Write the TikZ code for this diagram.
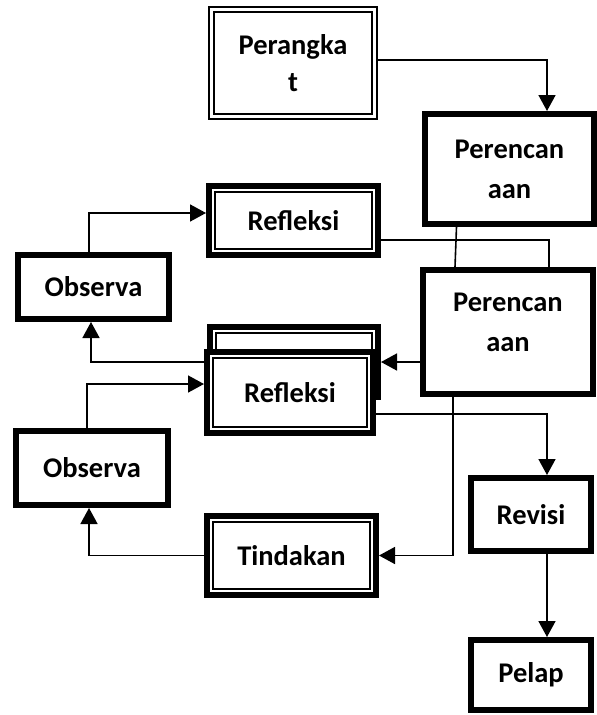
\documentclass[tikz,border=0pt]{standalone}
\usepackage{fontspec}
\setmainfont{Carlito}
\usetikzlibrary{arrows.meta}

\begin{document}
\begin{tikzpicture}[x=1pt,y=-1pt]
	\tikzstyle{kotak}=[draw,line width=6pt,fill=white,inner sep=0pt,align=center,font=\bfseries\fontsize{28.5}{40}\selectfont]
	\tikzstyle{ganda}=[kotak,line width=1.7pt,double,double distance=3.3pt,outer sep=3.35pt,font=\bfseries\fontsize{28.5}{37}\selectfont]
	\tikzstyle{bingkai}=[kotak,path picture={\draw[line width=1.6pt] ([shift={(6pt,-6pt)}]path picture bounding box.north west) rectangle ([shift={(-6pt,6pt)}]path picture bounding box.south east);}]
	\tikzstyle{garis}=[line width=1.6pt]
	\tikzstyle{panah}=[garis,-{Triangle[length=16pt,width=17pt]}]
	\useasboundingbox (0,0) rectangle (597,715);
	\node[ganda,minimum width=163pt,minimum height=107pt] (Pk) at (293,63) {Perangka\\t};
	\node[kotak,minimum width=169pt,minimum height=110pt] (P1) at (509.5,169) {Perencan\\aan};
	\node[bingkai,minimum width=169pt,minimum height=69pt] (R1) at (293.5,220.5) {Refleksi};
	\node[kotak,minimum width=151pt,minimum height=64pt] (O1) at (93.5,287) {Observa};
	\node[kotak,minimum width=170pt,minimum height=124pt,text depth=20pt] (P2) at (508,332) {Perencan\\aan};
	\node[bingkai,minimum width=168pt,minimum height=70pt] (B) at (294,362) {};
	\node[bingkai,minimum width=166pt,minimum height=81pt] (R2) at (290,392.5) {Refleksi};
	\node[kotak,minimum width=152pt,minimum height=74pt] (O2) at (92,468) {Observa};
	\node[bingkai,minimum width=169pt,minimum height=79pt] (T) at (291.5,555.5) {Tindakan};
	\node[kotak,minimum width=120pt,minimum height=73pt] (Rv) at (531,514.5) {Revisi};
	\node[kotak,minimum width=120pt,minimum height=70pt] (Pl) at (531,675) {Pelap};
	\draw[panah] ([yshift=3pt]Pk.east) -| ([xshift=37.5pt]P1.north);
	\draw[panah] ([xshift=-4.5pt]O1.north) |- ([yshift=7.5pt]R1.west);
	\draw[garis] ([yshift=-19.5pt]R1.east) -| ([xshift=41pt]P2.north);
	\draw[garis] ([xshift=-53pt]P1.south) -- ([xshift=-53pt]P2.north);
	\draw[panah] (P2.west |- B.east) -- (B.east);
	\draw[panah] (B.west) -| ([xshift=-2.5pt]O1.south);
	\draw[panah] ([xshift=-5pt]O2.north) |- ([yshift=8.5pt]R2.west);
	\draw[panah] ([yshift=-21.5pt]R2.east) -| ([xshift=16pt]Rv.north);
	\draw[panah] ([xshift=-55pt]P2.south) |- (T.east);
	\draw[panah] (T.west) -| ([xshift=-3pt]O2.south);
	\draw[panah] ([xshift=16pt]Rv.south) -- ([xshift=16pt]Pl.north);
\end{tikzpicture}
\end{document}
